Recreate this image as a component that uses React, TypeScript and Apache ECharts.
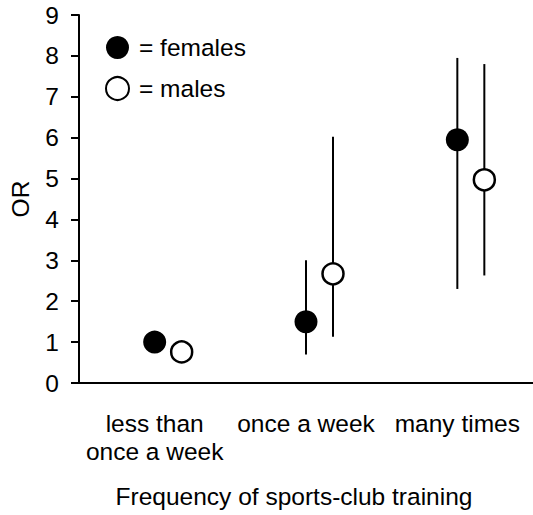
import React, { useEffect, useRef } from "react";
import * as echarts from "echarts";

const categories = ["less than\nonce a week", "once a week", "many times"];
const femaleOR = [1.0, 1.5, 5.95];
const femaleLow = [null, 0.7, 2.3];
const femaleHigh = [null, 3.0, 7.95];
const maleOR = [0.76, 2.67, 4.97];
const maleLow = [null, 1.13, 2.63];
const maleHigh = [null, 6.02, 7.8];
const yTicks = [0, 9, 1]; // min, max, interval

const FONT = "'Liberation Sans', Arial, sans-serif";
const FS = 24.5;
const MALE_OFFSET = 27;

function errorSeries(low: (number | null)[], high: (number | null)[], offset: number) {
  return {
    type: "custom",
    silent: true,
    z: 1,
    data: low.map((l, i) => [i, l, high[i]]),
    renderItem: (params: any, api: any) => {
      const l = api.value(1);
      const h = api.value(2);
      if (l == null || h == null || isNaN(l) || isNaN(h)) return null;
      const p1 = api.coord([api.value(0), l]);
      const p2 = api.coord([api.value(0), h]);
      return {
        type: "line",
        shape: { x1: p1[0] + offset, y1: p1[1], x2: p2[0] + offset, y2: p2[1] },
        style: { stroke: "#000", lineWidth: 2 },
      };
    },
  };
}

export default function App() {
  const ref = useRef<HTMLDivElement>(null);
  useEffect(() => {
    if (!ref.current) return;
    const chart = echarts.init(ref.current, null, { renderer: "svg" });
    chart.setOption({
      animation: false,
      backgroundColor: "#fff",
      textStyle: { fontFamily: FONT, color: "#000" },
      grid: { left: 78, right: 0, top: 15, bottom: 132 },
      legend: {
        orient: "vertical",
        left: 100,
        top: 30,
        itemWidth: 23,
        itemHeight: 23,
        itemGap: 16,
        data: ["females", "males"],
        formatter: (n: string) => "= " + n,
        textStyle: { fontFamily: FONT, fontSize: FS, color: "#000", padding: [0, 0, 0, 5] },
        selectedMode: false,
      },
      xAxis: {
        type: "category",
        data: categories,
        name: "Frequency of sports-club training",
        nameLocation: "middle",
        nameGap: 101,
        nameTextStyle: { fontFamily: FONT, fontSize: FS, color: "#000", padding: [0, 24, 0, 0], verticalAlign: "top" },
        axisLine: { lineStyle: { color: "#000", width: 2 } },
        axisTick: { show: false },
        axisLabel: { fontFamily: FONT, fontSize: FS, color: "#000", margin: 26, lineHeight: 28, interval: 0 },
        splitLine: { show: false },
      },
      yAxis: {
        type: "value",
        min: yTicks[0],
        max: yTicks[1],
        interval: yTicks[2],
        name: "OR",
        nameLocation: "middle",
        nameRotate: 90,
        nameGap: 46,
        nameTextStyle: { fontFamily: FONT, fontSize: FS, color: "#000" },
        axisLine: { show: true, lineStyle: { color: "#000", width: 2 } },
        axisTick: { show: true, inside: false, length: 8, lineStyle: { color: "#000", width: 2 } },
        axisLabel: { fontFamily: FONT, fontSize: FS, color: "#000", margin: 20 },
        splitLine: { show: false },
      },
      series: [
        errorSeries(femaleLow, femaleHigh, 0),
        errorSeries(maleLow, maleHigh, MALE_OFFSET),
        {
          name: "females",
          type: "scatter",
          z: 3,
          symbol: "circle",
          symbolSize: 23,
          itemStyle: { color: "#000", opacity: 1 },
          data: femaleOR,
        },
        {
          name: "males",
          type: "scatter",
          z: 3,
          symbol: "circle",
          symbolSize: 21,
          symbolOffset: [MALE_OFFSET, 0],
          itemStyle: { color: "#fff", borderColor: "#000", borderWidth: 2.5, opacity: 1 },
          data: maleOR,
        },
      ],
    });
    return () => chart.dispose();
  }, []);
  return (
    <div
      ref={ref}
      style={{ position: "fixed", left: 0, top: 0, width: 533, height: 515, background: "#fff" }}
    />
  );
}
